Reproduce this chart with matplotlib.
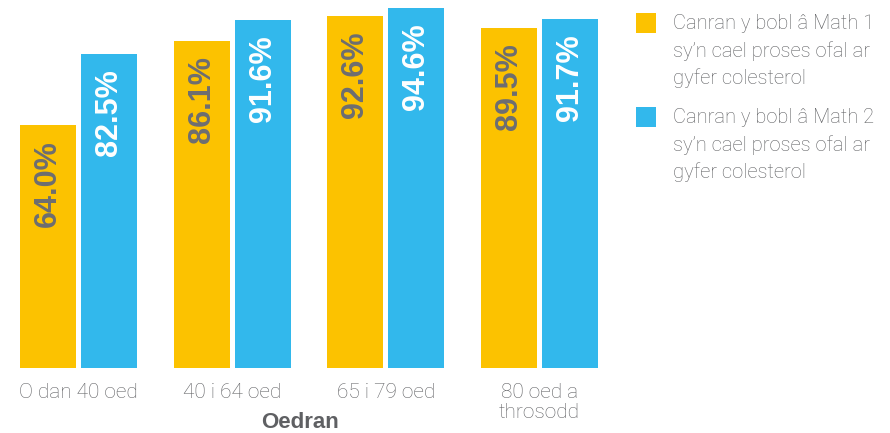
import matplotlib
matplotlib.use("Agg")
import matplotlib.pyplot as plt
from matplotlib.patches import Rectangle
import numpy as np

# data
groups = ["O dan 40 oed", "40 i 64 oed", "65 i 79 oed", "80 oed a\nthrosodd"]
math1 = [64.0, 86.1, 92.6, 89.5]
math2 = [82.5, 91.6, 94.6, 91.7]
series_labels = [
    "Canran y bobl â Math 1\nsy’n cael proses ofal ar\ngyfer colesterol",
    "Canran y bobl â Math 2\nsy’n cael proses ofal ar\ngyfer colesterol",
]
xlabel = "Oedran"

YELLOW = "#fcc200"
BLUE = "#32b8ec"
GREY = "#6d6e71"
TXT = "#5f6063"

plt.rcParams["font.family"] = ["Roboto", "DejaVu Sans"]

fig = plt.figure(figsize=(8.9, 4.33), dpi=100)
ax = fig.add_axes([20 / 890, 65 / 433, 578 / 890, 368 / 433])

x = np.arange(len(groups))
w = 0.364
off = 0.198
b1 = ax.bar(x - off, math1, w, color=YELLOW)
b2 = ax.bar(x + off, math2, w, color=BLUE)

for bars, vals, col in [(b1, math1, GREY), (b2, math2, "white")]:
    for rect, v in zip(bars, vals):
        ax.annotate(f"{v:.1f}%", (rect.get_x() + rect.get_width() / 2, v),
                    xytext=(0, -11), textcoords="offset points",
                    rotation=90, ha="center", va="top", color=col,
                    fontsize=22, fontweight="bold",
                    fontfamily=["Liberation Sans", "DejaVu Sans"])

ax.set_xlim(-0.38, 3.38)
ax.set_ylim(0, 96.8)
ax.set_xticks(x)
ax.set_xticklabels(groups, fontsize=15, color=TXT, fontweight="light",
                   linespacing=1.05)
ax.tick_params(axis="x", length=0, pad=11)
ax.set_yticks([])
for s in ax.spines.values():
    s.set_visible(False)

fig.text(300 / 890, 1 - 423 / 433, xlabel, ha="center", va="center",
         fontsize=16, fontweight="bold", color=TXT,
         fontfamily=["Liberation Sans", "DejaVu Sans"])

# legend, drawn by hand so the swatch sits beside the first line
for i, (bars, lab) in enumerate(zip([b1, b2], series_labels)):
    top = 13 + i * 94
    fig.add_artist(Rectangle((636 / 890, 1 - (top + 20) / 433), 20 / 890, 20 / 433,
                             transform=fig.transFigure,
                             color=bars[0].get_facecolor(), lw=0))
    fig.text(673 / 890, 1 - (top + 1) / 433, lab, ha="left", va="top",
             fontsize=14.5, fontweight="light", color=TXT, linespacing=1.5)

fig.savefig("out.png", dpi=100)
